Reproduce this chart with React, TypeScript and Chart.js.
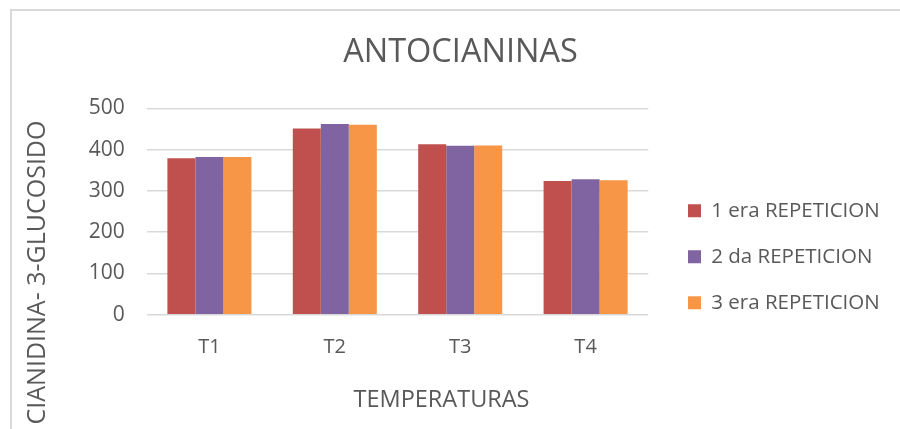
import React, { useEffect, useRef } from "react";
import { Chart, registerables } from "chart.js";

Chart.register(...registerables);

const categories = ["T1", "T2", "T3", "T4"];
const rep1 = [379, 451, 413, 324];
const rep2 = [382, 462, 409, 328];
const rep3 = [382, 460, 410, 326];
const seriesLabels = ["1 era REPETICION", "2 da REPETICION", "3 era REPETICION"];
const seriesColors = ["#C0504D", "#8064A2", "#F79646"];
const yMin = 0;
const yMax = 500;
const yStep = 100;
const chartTitle = "ANTOCIANINAS";
const xTitle = "TEMPERATURAS";
const yTitle = "CIANIDINA- 3-GLUCOSIDO";

const FONT = "'Open Sans', sans-serif";
const TEXT = "#595959";
const GRID = "#D9D9D9";
const LEGEND_SIZE = 20.5;

const decor = {
  id: "decor",
  afterLayout(chart: any) {
    const t = chart.titleBlock;
    if (t) {
      t.left = 21;
      t.right = 900;
      t.width = t.right - t.left;
    }
    const lg = chart.legend;
    if (lg) {
      const pad = lg.options.labels.padding;
      lg.left = 688 - pad;
      lg.right = 900;
      lg.top = 210.7 - LEGEND_SIZE / 2 - pad;
      lg.bottom = 429;
      lg.width = lg.right - lg.left;
      lg.height = lg.bottom - lg.top;
    }
  },
  beforeDraw(chart: any) {
    const ctx = chart.ctx;
    ctx.save();
    ctx.strokeStyle = GRID;
    ctx.lineWidth = 2;
    ctx.beginPath();
    ctx.moveTo(11, 429);
    ctx.lineTo(11, 10);
    ctx.lineTo(900, 10);
    ctx.stroke();
    ctx.restore();
  },
  afterDraw(chart: any) {
    const ctx = chart.ctx;
    ctx.save();
    ctx.fillStyle = TEXT;
    ctx.textAlign = "center";
    ctx.textBaseline = "middle";
    ctx.font = `23.5px ${FONT}`;
    ctx.fillText(xTitle, 441.5, 400);
    ctx.translate(38, 272.5);
    ctx.rotate(-Math.PI / 2);
    ctx.font = `25px ${FONT}`;
    ctx.fillText(yTitle, 0, 0);
    ctx.restore();
  },
};

export default function App() {
  const ref = useRef<HTMLCanvasElement | null>(null);
  useEffect(() => {
    if (!ref.current) return;
    const seriesData = [rep1, rep2, rep3];
    const chart = new Chart(ref.current, {
      type: "bar",
      data: {
        labels: categories,
        datasets: seriesLabels.map((label, i) => ({
          label,
          data: seriesData[i],
          backgroundColor: seriesColors[i],
          borderWidth: 0,
          categoryPercentage: 0.67,
          barPercentage: 1,
        })),
      },
      options: {
        animation: false,
        responsive: false,
        events: [],
        layout: { padding: { left: 0, right: 251.7, top: 0, bottom: 0 } },
        plugins: {
          tooltip: { enabled: false },
          title: {
            display: true,
            text: chartTitle,
            color: TEXT,
            font: { family: FONT, size: 32.5, weight: "normal" },
            padding: { top: 33, bottom: 36.3 },
          },
          legend: {
            display: true,
            position: "chartArea",
            align: "start",
            labels: {
              boxWidth: 13,
              boxHeight: 13,
              padding: 46 - LEGEND_SIZE,
              color: TEXT,
              font: { family: FONT, size: LEGEND_SIZE },
            },
          },
        },
        scales: {
          x: {
            grid: { display: false, drawTicks: false },
            border: { display: false },
            ticks: { color: TEXT, font: { family: FONT, size: 20 }, padding: 20.5 },
            afterFit: (s: any) => {
              s.height = 114.3;
            },
          },
          y: {
            min: yMin,
            max: yMax,
            ticks: { stepSize: yStep, color: TEXT, font: { family: FONT, size: 21 }, padding: 22 },
            grid: { color: GRID, lineWidth: 1.5, drawTicks: false },
            border: { display: false },
            afterFit: (s: any) => {
              s.width = 146.7;
            },
          },
        },
      },
      plugins: [decor],
    } as any);
    return () => chart.destroy();
  }, []);
  return (
    <div style={{ position: "absolute", left: 0, top: 0, width: 900, height: 429, background: "#fff" }}>
      <canvas ref={ref} width={900} height={429} style={{ display: "block" }} />
    </div>
  );
}
